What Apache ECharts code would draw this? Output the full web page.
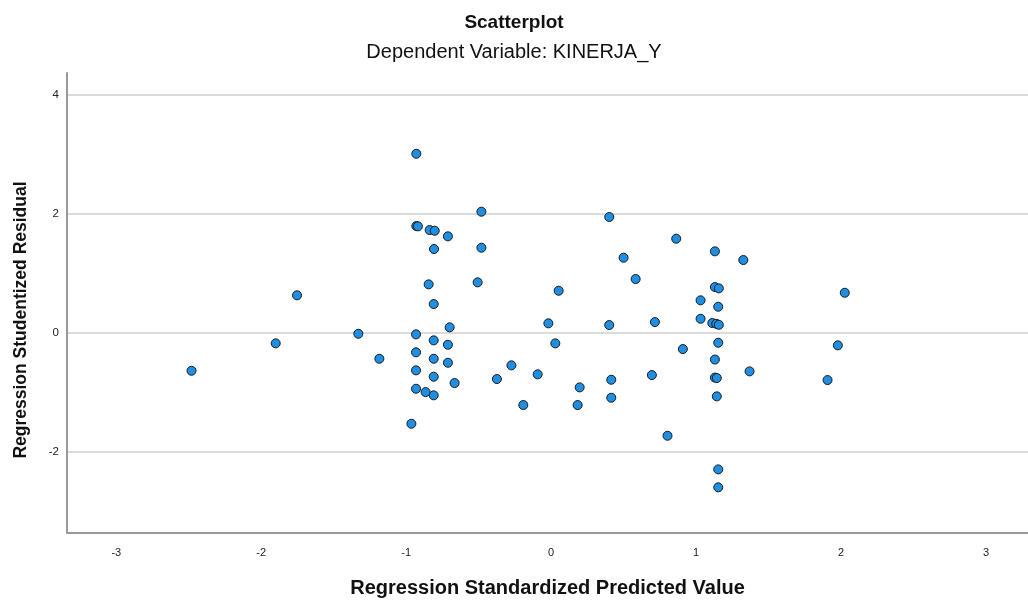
<!DOCTYPE html>
<html>
<head>
<meta charset="utf-8">
<script src="https://cdn.jsdelivr.net/npm/echarts@6/dist/echarts.min.js"></script>
<style>
  html, body { margin: 0; padding: 0; background: #fff; }
  #main { width: 1028px; height: 600px; }
</style>
</head>
<body>
<div id="main"></div>
<script>
// standardized predicted value (x) and studentized residual (y)
const predicted = [
  -2.481, -1.900, -1.753, -1.330, -1.185,
  -0.930, -0.930, -0.919, -0.932, -0.932, -0.932, -0.932, -0.964,
  -0.845, -0.838, -0.803, -0.808, -0.810, -0.810, -0.810, -0.810, -0.810, -0.866,
  -0.712, -0.700, -0.712, -0.712, -0.666,
  -0.481, -0.481, -0.507,
  -0.374, -0.274, -0.192, -0.093, -0.019, 0.029, 0.052, 0.183, 0.197,
  0.401, 0.401, 0.415, 0.415, 0.500, 0.583, 0.716, 0.695, 0.803, 0.863, 0.909,
  1.031, 1.031,
  1.130, 1.130, 1.157, 1.153, 1.112, 1.139, 1.157, 1.153, 1.130, 1.130, 1.143, 1.143, 1.153, 1.153,
  1.326, 1.369, 1.907, 1.978, 2.026
];
const residual = [
  -0.634, -0.173, 0.634, -0.012, -0.432,
  3.013, 1.798, 1.793, -0.022, -0.324, -0.627, -0.936, -1.524,
  0.818, 1.731, 1.719, 1.412, 0.487, -0.123, -0.432, -0.734, -1.047, -0.992,
  1.625, 0.096, -0.197, -0.499, -0.840,
  2.039, 1.434, 0.852,
  -0.773, -0.543, -1.210, -0.694, 0.163, -0.173, 0.711, -1.210, -0.913,
  1.950, 0.134, -0.785, -1.087, 1.266, 0.908, 0.185, -0.706, -1.726, 1.585, -0.269,
  0.550, 0.240,
  1.373, 0.773, 0.751, 0.442, 0.168, 0.156, 0.139, -0.163, -0.445, -0.748, -0.756, -1.064, -2.291, -2.593,
  1.227, -0.644, -0.790, -0.207, 0.677
];
const xTicks = [-3, -2, -1, 0, 1, 2, 3];
const yTicks = [-2, 0, 2, 4];

const points = predicted.map((x, i) => [x, residual[i]]);

const chart = echarts.init(document.getElementById('main'));
const font = '"Liberation Sans", Arial, sans-serif';

chart.setOption({
  backgroundColor: '#ffffff',
  textStyle: { fontFamily: font },
  title: [
    {
      text: 'Scatterplot',
      left: 'center',
      top: 8,
      textStyle: { fontFamily: font, fontSize: 19, fontWeight: 'bold', color: '#111' }
    },
    {
      text: 'Dependent Variable: KINERJA_Y',
      left: 'center',
      top: 37,
      textStyle: { fontFamily: font, fontSize: 20, fontWeight: 'normal', color: '#111' }
    }
  ],
  grid: { left: 67, right: 0, top: 73, bottom: 67, outerBoundsMode: 'none' },
  xAxis: {
    type: 'value',
    min: -3.34,
    max: 3.29,
    name: 'Regression Standardized Predicted Value',
    nameLocation: 'middle',
    nameGap: 45,
    nameTextStyle: { fontFamily: font, fontSize: 20, fontWeight: 'bold', color: '#111' },
    axisLine: { show: true, onZero: false, lineStyle: { color: '#999', width: 2 } },
    axisTick: { show: false, customValues: xTicks },
    axisLabel: { customValues: xTicks, fontSize: 11, color: '#222', margin: 14, fontFamily: font },
    splitLine: { show: false }
  },
  yAxis: {
    type: 'value',
    min: -3.36,
    max: 4.37,
    name: 'Regression Studentized Residual',
    nameLocation: 'middle',
    nameGap: 37,
    nameTextStyle: { fontFamily: font, fontSize: 17.5, fontWeight: 'bold', color: '#111', padding: [0, 34, 0, 0] },
    axisLine: { show: true, onZero: false, lineStyle: { color: '#999', width: 2 } },
    axisTick: { show: false, customValues: yTicks },
    axisLabel: { customValues: yTicks, fontSize: 11.5, color: '#222', margin: 8, fontFamily: font },
    splitLine: { show: true, lineStyle: { color: '#cfcfcf', width: 1.5 } }
  },
  series: [{
    type: 'scatter',
    data: points,
    symbol: 'circle',
    symbolSize: 9,
    itemStyle: { color: '#1e8fe3', borderColor: '#1a1a1a', borderWidth: 1, opacity: 1 },
    animation: false
  }]
});
</script>
</body>
</html>
